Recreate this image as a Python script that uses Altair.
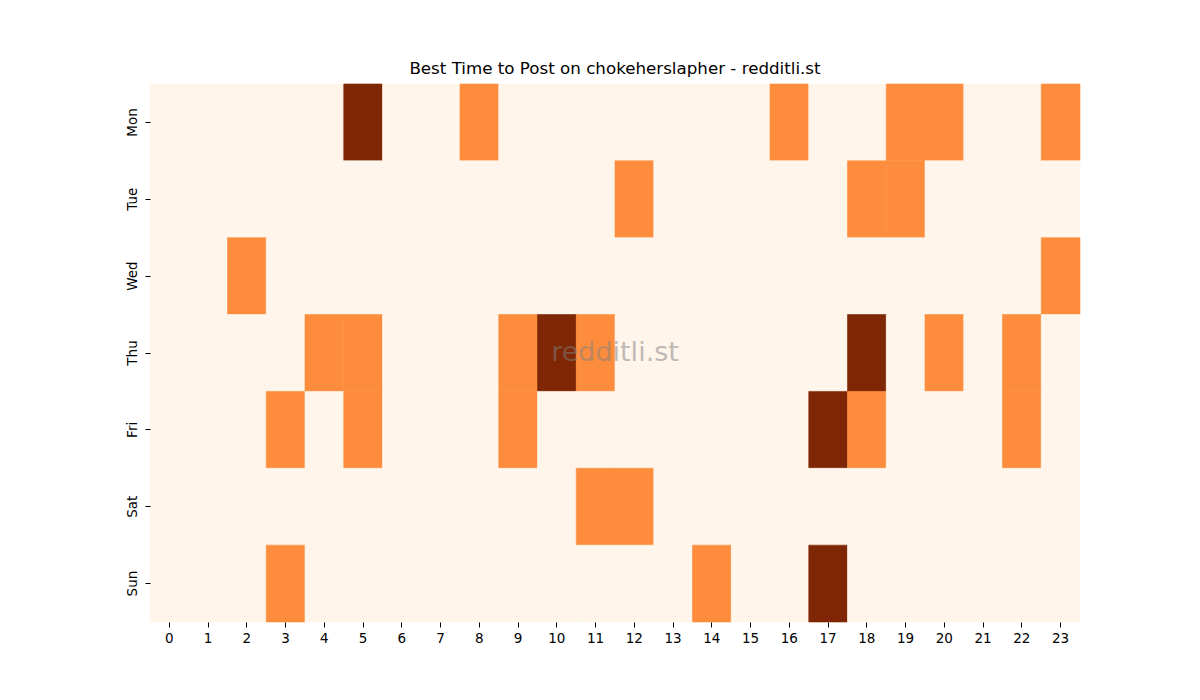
import altair as alt
import pandas as pd

days = ["Mon", "Tue", "Wed", "Thu", "Fri", "Sat", "Sun"]
hours = list(range(24))

# 0 = none, 1 = good, 2 = best
mon = [0,0,0,0,0,2,0,0,1,0,0,0,0,0,0,0,1,0,0,1,1,0,0,1]
tue = [0,0,0,0,0,0,0,0,0,0,0,0,1,0,0,0,0,0,1,1,0,0,0,0]
wed = [0,0,1,0,0,0,0,0,0,0,0,0,0,0,0,0,0,0,0,0,0,0,0,1]
thu = [0,0,0,0,1,1,0,0,0,1,2,1,0,0,0,0,0,0,2,0,1,0,1,0]
fri = [0,0,0,1,0,1,0,0,0,1,0,0,0,0,0,0,0,2,1,0,0,0,1,0]
sat = [0,0,0,0,0,0,0,0,0,0,0,1,1,0,0,0,0,0,0,0,0,0,0,0]
sun = [0,0,0,1,0,0,0,0,0,0,0,0,0,0,1,0,0,2,0,0,0,0,0,0]
rows = [mon, tue, wed, thu, fri, sat, sun]

records = []
for d, vals in zip(days, rows):
    for h, v in zip(hours, vals):
        records.append({"day": d, "hour": h, "value": v})
df = pd.DataFrame(records)

W, H = 930, 538
cscale = alt.Scale(domain=[0, 1, 2], range=["#fff5eb", "#fd8d3c", "#7f2704"])

heat = alt.Chart(df).mark_rect(strokeWidth=0.6).encode(
    x=alt.X("hour:O", sort=hours, title=None,
            axis=alt.Axis(labelAngle=0, labelFontSize=13.5, labelFont="DejaVu Sans",
                          labelColor="black", tickSize=5, tickColor="black",
                          domain=False, labelPadding=4)),
    y=alt.Y("day:O", sort=days, title=None,
            axis=alt.Axis(labelAngle=270, labelFontSize=13.5, labelFont="DejaVu Sans",
                          labelColor="black", tickSize=5, tickColor="black",
                          domain=False, labelPadding=6, labelAlign="center",
                          labelBaseline="bottom")),
    color=alt.Color("value:Q", legend=None, scale=cscale),
    stroke=alt.Stroke("value:Q", legend=None, scale=cscale),
).properties(width=W, height=H)

mark = alt.Chart(pd.DataFrame({"t": ["redditli.st"]})).mark_text(
    fontSize=27, font="DejaVu Sans", color="#808080", opacity=0.5,
    align="center", baseline="middle"
).encode(text="t:N", x=alt.value(W / 2), y=alt.value(H / 2))

chart = alt.layer(heat, mark).properties(
    title=alt.TitleParams("Best Time to Post on chokeherslapher - redditli.st",
                          fontSize=16.7, font="DejaVu Sans", fontWeight="normal",
                          color="black", offset=6),
    padding={"left": 142, "top": 76, "right": 10, "bottom": 60},
    autosize=alt.AutoSizeParams(type="none"),
).configure_view(stroke=None)

chart.save("out.html", embed_options={"renderer": "svg", "actions": False})
